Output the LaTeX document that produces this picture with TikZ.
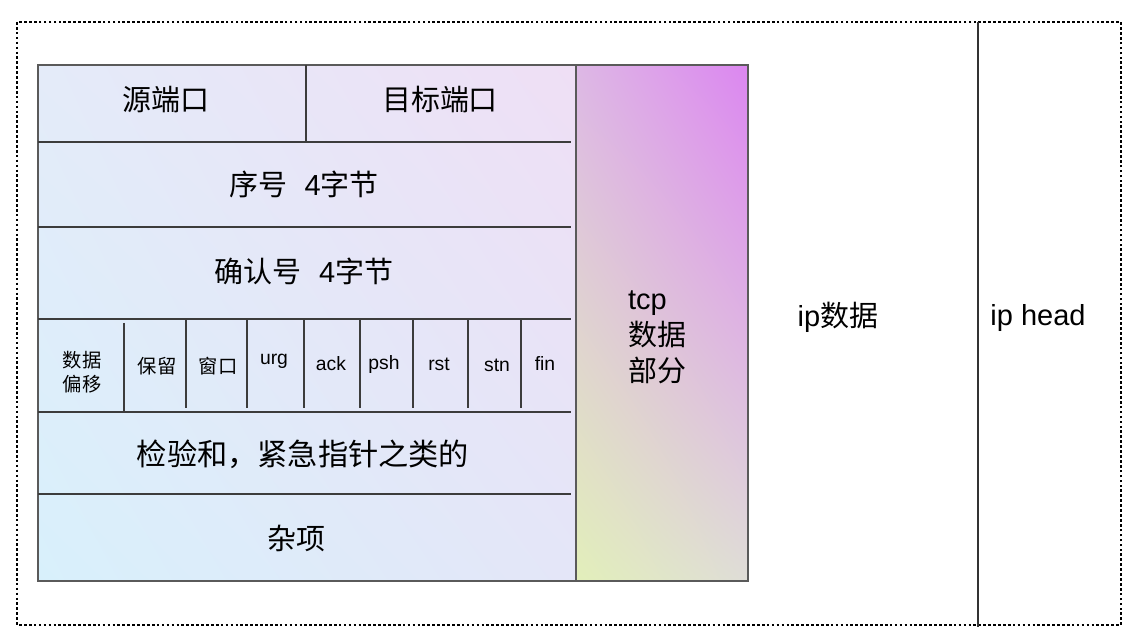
\documentclass[tikz,border=0pt]{standalone}
\usepackage{fontspec}
\setmainfont{Liberation Sans}
\newfontfamily\cjk{Noto Sans CJK SC}
\usetikzlibrary{positioning, shadings}
\definecolor{framegray}{RGB}{90, 90, 90}
\definecolor{linegray}{RGB}{60, 60, 60}
\definecolor{hdrtl}{RGB}{228, 235, 249}
\definecolor{hdrtr}{RGB}{239, 223, 245}
\definecolor{hdrbl}{RGB}{216, 240, 251}
\definecolor{hdrbr}{RGB}{228, 230, 248}
\definecolor{datatl}{RGB}{221, 184, 229}
\definecolor{datatr}{RGB}{220, 134, 240}
\definecolor{databl}{RGB}{226, 239, 186}
\definecolor{databr}{RGB}{223, 221, 215}
\tikzset{
    bigtext/.style={font=\fontsize{16.5}{20.4}\selectfont, inner sep=0pt},
    smalltext/.style={font=\fontsize{11}{13.6}\selectfont, inner sep=0pt,
                      align=center},
    sepline/.style={draw=linegray, line width=0.75pt},
    boxline/.style={draw=framegray, line width=0.85pt},
    outerframe/.style={line width=1.5pt, dash pattern=on 1.5pt off 1.3pt},
}

\begin{document}
\begin{tikzpicture}[x=0.02cm, y=-0.02cm]
    \useasboundingbox (0,0) rectangle (1144,641);

    % Outer frame
    \draw[outerframe] (17,22) rectangle (1121,625);
    \coordinate (iptop) at (978,22);
    \coordinate (ipbot) at (978,627);
    \draw[line width=1pt, draw=black!80] (iptop) -- (ipbot);

    % TCP header box
    \shade[lower left=hdrbl, upper left=hdrtl, upper right=hdrtr,
           lower right=hdrbr] (38,65) rectangle (576,581);
    \draw[boxline] (38,65) rectangle (576,581);

    % TCP data box
    \shade[lower left=databl, upper left=datatl, upper right=datatr,
           lower right=databr] (576,65) rectangle (748,581);
    \draw[boxline] (576,65) rectangle (748,581);

    % Row separators
    \foreach \y in {142,227,319,412,494}
        \draw[sepline] (38,\y) -- (571,\y);
    \draw[sepline] (306,65) -- (306,142);

    % Flag row separators
    \draw[sepline] (124,323) -- (124,411);
    \foreach \x in {186,247,304,360,413,468,521}
        \draw[sepline] (\x,319) -- (\x,408);

    % Header fields
    \node[bigtext] (srcport) at (166,100) {\cjk 源端口};
    \node[bigtext] (dstport) at (440,100) {\cjk 目标端口};
    \node[bigtext] (seqnum) at (304,184) {{\cjk 序号}\hspace{0.6em}4{\cjk 字节}};
    \node[bigtext] (acknum) at (304,271) {{\cjk 确认号}\hspace{0.6em}4{\cjk 字节}};
    \node[smalltext, font=\cjk\fontsize{11}{13.6}\selectfont] (offset) at (82,372) {数据\\偏移};
    \node[smalltext, font=\cjk\fontsize{11}{13.6}\selectfont] (reserved) at (157,366) {保留};
    \node[smalltext, font=\cjk\fontsize{11}{13.6}\selectfont] (window) at (218,366) {窗口};
    \node[smalltext] (urg) at (274,361) {urg};
    \node[smalltext] (ack) at (331,364) {ack};
    \node[smalltext] (psh) at (384,365) {psh};
    \node[smalltext] (rst) at (439,364) {rst};
    \node[smalltext] (stn) at (497,365) {stn};
    \node[smalltext] (fin) at (545,364) {fin};
    \node[bigtext, font=\fontsize{17.2}{20.4}\selectfont] (checksum) at (303,454) {\cjk 检验和，紧急指针之类的};
    \node[bigtext] (misc) at (296,538) {\cjk 杂项};

    % Data parts
    \node[bigtext, align=left] (tcpdata) at (657,337) {tcp\\{\cjk 数据}\\{\cjk 部分}};
    \node[bigtext] (ipdata) at (838,317) {ip{\cjk 数据}};
    \node[bigtext] (iphead) at (1038,318) {ip head};
\end{tikzpicture}
\end{document}
